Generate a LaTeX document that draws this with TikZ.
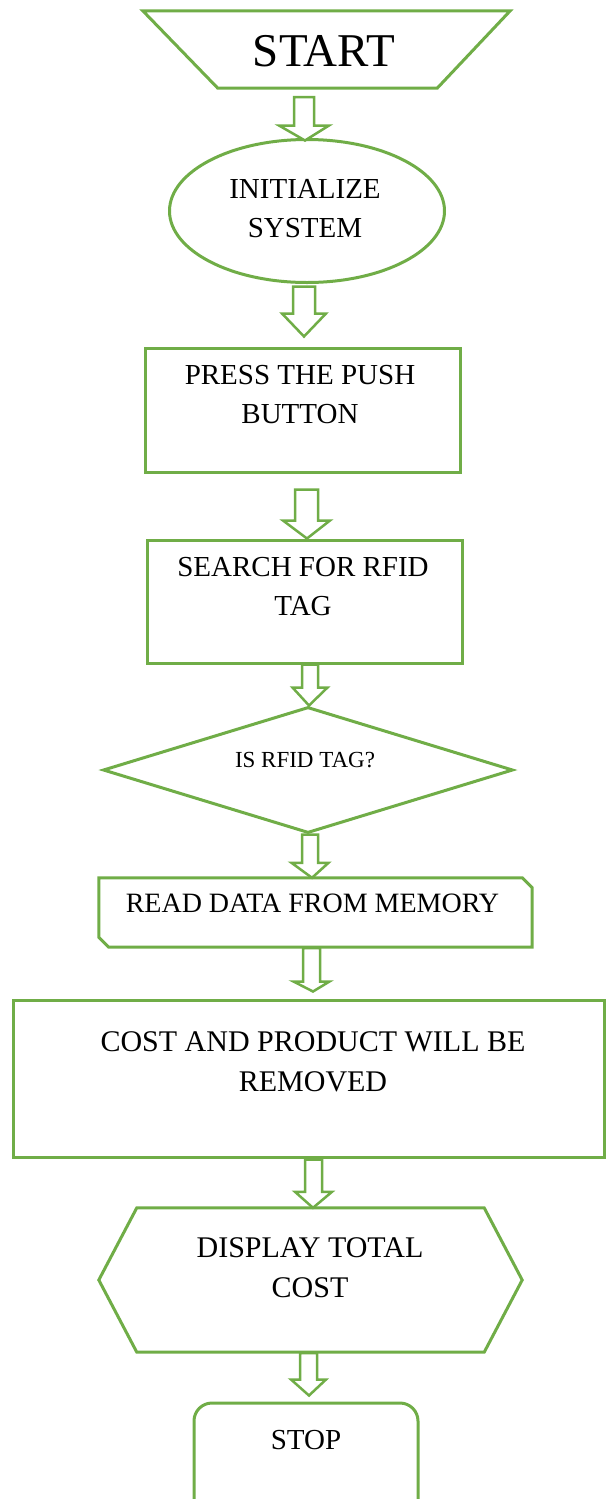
\documentclass[tikz,border=0pt]{standalone}
\usepackage{fontspec}
\setmainfont{Liberation Serif}
\usetikzlibrary{shapes.geometric, calc}
\definecolor{flowgreen}{RGB}{112,173,71}

\begin{document}
\begin{tikzpicture}[x=1pt, y=-1pt]
    % Define styles
    \tikzstyle{box} = [draw=flowgreen, line width=3pt, fill=white, inner sep=2pt]
    \tikzstyle{frame} = [inner sep=0pt]
    \tikzstyle{outline} = [draw=flowgreen, line width=3pt, fill=white, line join=miter]
    \tikzstyle{txt} = [align=center, inner sep=0pt, font=\fontsize{29}{39}\selectfont]
    \tikzset{fatarrow/.style n args={3}{draw=flowgreen, line width=2.5pt, fill=white,
        to path={let \p1=(\tikztostart), \p2=(\tikztotarget) in
            (\x1-#1pt,\y1) -- (\x1-#1pt,\y2+#3pt) -- (\x1-#2pt,\y2+#3pt) -- (\x2,\y2)
            -- (\x1+#2pt,\y2+#3pt) -- (\x1+#1pt,\y2+#3pt) -- (\x1+#1pt,\y1) -- cycle}}}

    \clip (0,0) rectangle (606,1499);

    % Flow boxes
    \node[frame, minimum width=367pt, minimum height=77pt] (start) at (326.5,49.5) {};
    \draw[outline] (start.north west) -- (start.north east) -- ([xshift=-73pt]start.south east)
        -- ([xshift=75pt]start.south west) -- cycle;
    \node[box, ellipse, minimum width=275pt, minimum height=143pt] (init) at (307,211) {};
    \node[box, minimum width=315pt, minimum height=124pt] (push) at (302.5,410) {};
    \node[box, minimum width=315pt, minimum height=123pt] (search) at (304.5,601.5) {};
    \node[box, diamond, minimum width=410pt, minimum height=126pt] (decide) at (308,770) {};
    \node[frame, minimum width=433pt, minimum height=69pt] (readmem) at (315.5,912.5) {};
    \draw[outline] (readmem.north west) -- ([xshift=-10pt]readmem.north east)
        -- ([yshift=-10pt]readmem.north east) -- (readmem.south east)
        -- ([xshift=10pt]readmem.south west) -- ([yshift=10pt]readmem.south west) -- cycle;
    \node[box, minimum width=591pt, minimum height=157pt] (update) at (308.5,1078.5) {};
    \node[frame, minimum width=423pt, minimum height=144pt] (display) at (310.5,1280) {};
    \draw[outline] ([xshift=38pt]display.north west) -- ([xshift=-38pt]display.north east)
        -- (display.east) -- ([xshift=-38pt]display.south east)
        -- ([xshift=38pt]display.south west) -- (display.west) -- cycle;
    \node[box, rounded corners=18pt, minimum width=224pt, minimum height=140pt] (stop) at (306,1473) {};

    % Texts
    \node[txt, font=\fontsize{47}{50}\selectfont] (startlbl) at (324,51) {START};
    \node[txt] (initlbl) at (305,209) {INITIALIZE\\SYSTEM};
    \node[txt] (pushlbl) at (300,395) {PRESS THE PUSH\\BUTTON};
    \node[txt] (searchlbl) at (303,587) {SEARCH FOR RFID\\TAG};
    \node[txt, font=\fontsize{23}{28}\selectfont] (decidelbl) at (305,760) {IS RFID TAG?};
    \node[txt, font=\fontsize{28}{36}\selectfont] (readlbl) at (312.5,903) {READ DATA FROM MEMORY};
    \node[txt, font=\fontsize{30}{40}\selectfont] (updatelbl) at (313,1062) {COST AND PRODUCT WILL BE\\REMOVED};
    \node[txt, font=\fontsize{30}{40}\selectfont] (displaylbl) at (310,1268) {DISPLAY TOTAL\\COST};
    \node[txt] (stoplbl) at (306,1440) {STOP};

    % Connections
    \draw[fatarrow={10}{25}{15}] ([xshift=-22.5pt, yshift=-9pt]start.south) to ([xshift=-2pt, yshift=-2.5pt]init.north);
    \draw[fatarrow={11}{22}{23}] ([xshift=-3pt, yshift=-2.5pt]init.south) to ([xshift=1.5pt, yshift=10pt]push.north);
    \draw[fatarrow={11.5}{23.5}{18}] ([xshift=4pt, yshift=-16pt]push.south) to ([xshift=2.5pt]search.north);
    \draw[fatarrow={8}{17.5}{18}] ([xshift=5.5pt]search.south) to ([xshift=1pt]decide.north);
    \draw[fatarrow={8}{18.5}{15}] ([xshift=2pt]decide.south) to ([xshift=-3.5pt]readmem.north);
    \draw[fatarrow={8.5}{18}{10}] ([xshift=-4pt, yshift=-1pt]readmem.south) to ([xshift=4.5pt, yshift=7pt]update.north);
    \draw[fatarrow={8.5}{18.5}{16}] ([xshift=5pt, yshift=-1pt]update.south) to ([xshift=2.5pt]display.north);
    \draw[fatarrow={8.5}{17.5}{16}] ([xshift=-2pt, yshift=-1pt]display.south) to ([xshift=3pt, yshift=6pt]stop.north);
\end{tikzpicture}
\end{document}
